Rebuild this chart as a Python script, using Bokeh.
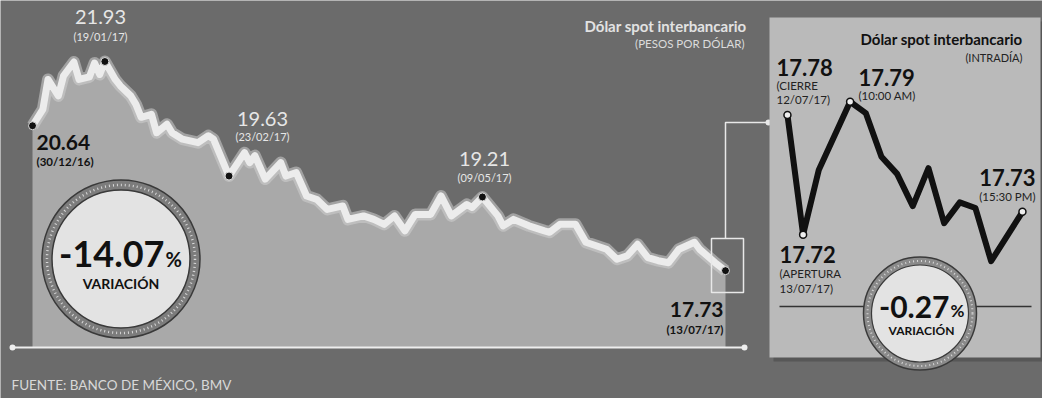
from bokeh.plotting import figure
from bokeh.models import Range1d
from bokeh.core.properties import value
from bokeh.embed import file_html
from bokeh.resources import INLINE

# ---------------- data ----------------
# main series: trading-day index since 30/12/16, pesos per dollar
main_days = [0, 2, 3, 5, 6, 8, 9, 11, 12, 13, 14, 16, 17, 19, 20, 21, 23, 24, 26, 27,
             29, 32, 34, 35, 38, 41, 42, 43, 45, 48, 49, 51, 53, 55, 57, 60, 61, 64, 66, 68,
             70, 72, 74, 77, 79, 81, 84, 85, 87, 90, 91, 93, 96, 99, 100, 102, 105, 107, 111, 113,
             115, 117, 119, 121, 123, 125, 128, 129, 132, 134]
main_vals = [20.64, 20.97, 21.57, 21.24, 21.64, 21.92, 21.57, 21.62, 21.90, 21.67, 21.93, 21.57, 21.44, 21.24, 21.07, 20.81, 20.87, 20.50, 20.67, 20.50,
             20.37, 20.30, 20.44, 20.37, 19.63, 20.10, 19.90, 20.04, 19.57, 19.90, 19.63, 19.70, 19.23, 19.16, 18.96, 19.03, 18.76, 18.83, 18.76, 18.66,
             18.83, 18.53, 18.86, 18.86, 19.23, 18.83, 19.06, 19.00, 19.21, 18.83, 18.63, 18.76, 18.63, 18.53, 18.50, 18.66, 18.66, 18.30, 18.16, 17.96,
             18.03, 18.26, 17.99, 17.93, 17.89, 18.16, 18.30, 18.16, 17.89, 17.73]
key_days = [0, 14, 38, 87, 134]
key_vals = [20.64, 21.93, 19.63, 19.21, 17.73]
key_value_labels = ["20.64", "21.93", "19.63", "19.21", "17.73"]
key_date_labels = ["(30/12/16)", "(19/01/17)", "(23/02/17)", "(09/05/17)", "(13/07/17)"]
BASE = 16.19

# intraday inset
intra_steps = [0, 1, 2, 4, 5, 6, 7, 8, 9, 10, 11, 12, 13, 15]
intra_vals = [17.782, 17.719, 17.753, 17.789, 17.783, 17.760, 17.751, 17.734, 17.754, 17.725, 17.736, 17.733, 17.705, 17.731]
intra_key_steps = [0, 1, 4, 15]
intra_key_vals = [17.782, 17.719, 17.789, 17.731]

variation_main = "-14.07"
variation_intra = "-0.27"

# ---------------- style ----------------
DARK = "#6b6b6b"
AREA = "#a9a9a9"
LINE = "#ececec"
LIGHT_TXT = "#e6e6e6"
INSET_BG = "#bababa"
FONT = value("Lato")

p = figure(width=1042, height=398,
           x_range=Range1d(-6.188, 195.30), y_range=Range1d(15.163, 23.155),
           output_backend="svg", toolbar_location=None,
           x_axis_location=None, y_axis_location=None,
           min_border=0, background_fill_color=DARK, border_fill_color=DARK,
           outline_line_color=None)
p.grid.visible = False
p.extra_x_ranges = {"px": Range1d(8, 1050), "ix": Range1d(-50.23, 16.28)}
p.extra_y_ranges = {"px": Range1d(406, 8), "iy": Range1d(17.6327, 17.8423)}
PX = dict(x_range_name="px", y_range_name="px")
IN = dict(x_range_name="ix", y_range_name="iy")


def txt(x, y, s, size, color, bold=True, align="left", baseline="middle"):
    p.text(x=[x], y=[y], text=[s], text_font=FONT, text_font_size=size,
           text_font_style="bold" if bold else "normal", text_color=color,
           text_align=align, text_baseline=baseline, **PX)


# ---------------- main chart ----------------
p.varea(x=main_days, y1=BASE, y2=main_vals, fill_color=AREA)
p.line(main_days, main_vals, line_color="#d0d0d0", line_width=12, line_alpha=0.55, line_join="round")
p.line(main_days, main_vals, line_color=LINE, line_width=7, line_join="round")
p.scatter(key_days, key_vals, size=8, fill_color="#111111", line_color="#dddddd", line_width=1)

# baseline
p.line([20, 752], [355, 355], line_color="#eeeeee", line_width=2, **PX)
p.scatter([20, 752], [355, 355], size=6, fill_color="#eeeeee", line_color=None, **PX)

# zoom box + connector
p.quad(left=[719], right=[751], top=[246], bottom=[300], fill_color=None,
       line_color="#e8e8e8", line_width=1.5, **PX)
p.line([733, 733, 776], [246, 130, 130], line_color="#e8e8e8", line_width=1.5, **PX)
p.scatter([776], [130], size=6, fill_color="#e8e8e8", line_color=None, **PX)

# key labels on main chart
txt(108, 24, key_value_labels[1], "20px", LIGHT_TXT, bold=False, align="center")
txt(108, 44, key_date_labels[1], "11px", LIGHT_TXT, bold=False, align="center")
txt(44, 150, key_value_labels[0], "21px", "#111111", align="left")
txt(44, 169, key_date_labels[0], "11.5px", "#111111", align="left")
txt(270, 126, key_value_labels[2], "20px", LIGHT_TXT, bold=False, align="center")
txt(270, 144, key_date_labels[2], "11px", LIGHT_TXT, bold=False, align="center")
txt(492, 166, key_value_labels[3], "20px", LIGHT_TXT, bold=False, align="center")
txt(492, 185, key_date_labels[3], "11px", LIGHT_TXT, bold=False, align="center")
txt(731, 317, key_value_labels[4], "21px", "#111111", align="right")
txt(731, 337, key_date_labels[4], "11.5px", "#111111", align="right")

# titles / source
txt(754, 33, "Dólar spot interbancario", "15px", "#e2e2e2", align="right")
txt(752, 51, "(PESOS POR DÓLAR)", "11.5px", "#dcdcdc", bold=False, align="right")
txt(19, 392, "FUENTE: BANCO DE MÉXICO, BMV", "13.5px", "#d8d8d8", bold=False, align="left")

# variation badge (main)
p.scatter([128.5], [266.5], size=158, fill_color="#7c7c7c", line_color="#3a3a3a", line_width=1.5, **PX)
p.scatter([128.5], [266.5], size=148, fill_color=None, line_color="#d8d8d8", line_width=2.5, line_dash="1 3", **PX)
p.scatter([128.5], [266.5], size=138, fill_color="#e3e3e3", line_color="#3a3a3a", line_width=1.5, **PX)
txt(172, 261, variation_main, "36px", "#111111", align="right")
txt(173, 266, "%", "20px", "#111111", align="left")
txt(128.5, 291, "VARIACIÓN", "14px", "#111111", align="center")

# ---------------- inset ----------------
p.quad(left=[781], right=[1052], top=[29], bottom=[369], fill_color="#4a4a4a", fill_alpha=0.6, line_color=None, **PX)
p.quad(left=[777], right=[1048], top=[25], bottom=[365], fill_color=INSET_BG, line_color=None, **PX)
p.line([787, 1039], [314, 314], line_color="#333333", line_width=1.5, **PX)

p.line(intra_steps, intra_vals, line_color="#111111", line_width=6, line_join="round", **IN)
p.scatter(intra_key_steps, intra_key_vals, size=7, fill_color="#eeeeee", line_color="#111111", line_width=1.5, **IN)

txt(1030, 46, "Dólar spot interbancario", "15px", "#111111", align="right")
txt(1030, 65, "(INTRADÍA)", "11px", "#222222", bold=False, align="right")
txt(784, 75, "17.78", "22px", "#111111", align="left")
txt(784, 93, "(CIERRE", "11.5px", "#222222", bold=False, align="left")
txt(784, 107, "12/07/17)", "11.5px", "#222222", bold=False, align="left")
txt(866, 85, "17.79", "22px", "#111111", align="left")
txt(866, 103, "(10:00 AM)", "11.5px", "#222222", bold=False, align="left")
txt(787, 262, "17.72", "22px", "#111111", align="left")
txt(787, 281, "(APERTURA", "11.5px", "#222222", bold=False, align="left")
txt(787, 296, "13/07/17)", "11.5px", "#222222", bold=False, align="left")
txt(1043, 185, "17.73", "22px", "#111111", align="right")
txt(1043, 204, "(15:30 PM)", "11.5px", "#222222", bold=False, align="right")

# variation badge (inset)
p.scatter([927.5], [321], size=113, fill_color="#8a8a8a", line_color="#3a3a3a", line_width=1.5, **PX)
p.scatter([927.5], [321], size=105, fill_color=None, line_color="#d8d8d8", line_width=2, line_dash="1 3", **PX)
p.scatter([927.5], [321], size=97, fill_color="#e3e3e3", line_color="#3a3a3a", line_width=1.2, **PX)
txt(957, 314, variation_intra, "30px", "#111111", align="right")
txt(958, 318, "%", "17px", "#111111", align="left")
txt(929, 338, "VARIACIÓN", "12px", "#111111", align="center")

open("out.html", "w").write(file_html(p, INLINE))
